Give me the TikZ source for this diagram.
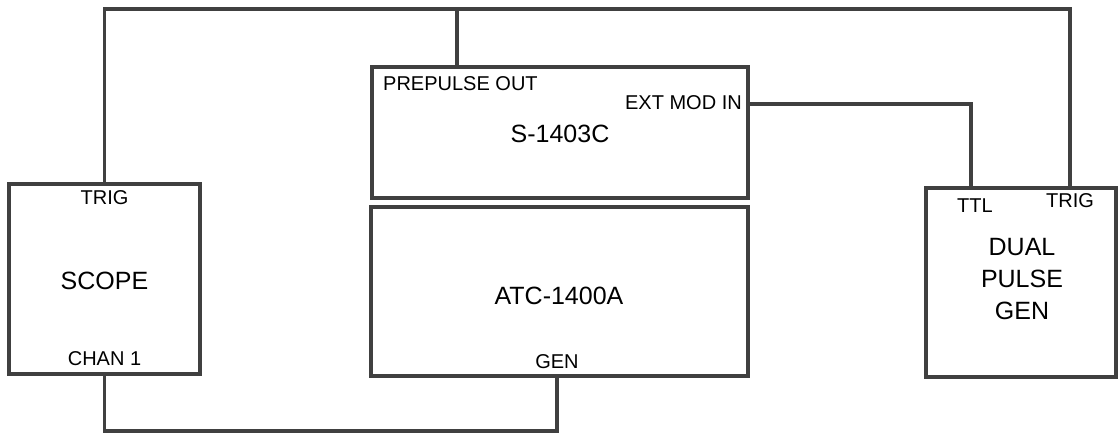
\documentclass[tikz,border=0pt]{standalone}
\usepackage{fontspec}
\setmainfont{Liberation Sans}
\begin{document}
\begin{tikzpicture}[x=1pt,y=-1pt,
  box/.style={draw=black!75, line width=3.2pt, rectangle, inner sep=0pt, outer sep=0pt},
  wire/.style={draw=black!75, line width=3.2pt, line join=miter},
  big/.style={inner sep=0pt, font=\fontsize{25}{32}\selectfont, align=center},
  small/.style={inner sep=0pt, font=\fontsize{20}{24}\selectfont}]
\useasboundingbox (0,0) rectangle (1120,437);
% boxes
\node[box, minimum width=191pt, minimum height=190pt] (scope) at (104.5,279) {};
\node[box, minimum width=376pt, minimum height=131pt] (src) at (560,132.5) {};
\node[box, minimum width=377pt, minimum height=169pt] (atc) at (559.5,291.5) {};
\node[box, minimum width=190pt, minimum height=189pt] (dpg) at (1021,282.5) {};
% labels
\node[small] (scopetrig) at (104.5,198) {TRIG};
\node[big] (scopename) at (104.5,281) {SCOPE};
\node[small] (chan) at (104.5,359) {CHAN 1};
\node[small, anchor=west] (prepulse) at (383,84) {PREPULSE OUT};
\node[small, anchor=east] (extmod) at (742,103) {EXT MOD IN};
\node[big] (srcname) at (560,134) {S-1403C};
\node[big] (atcname) at (559,296) {ATC-1400A};
\node[small] (gen) at (557,362) {GEN};
\node[small] (ttl) at (975,206) {TTL};
\node[small] (dpgtrig) at (1070,201) {TRIG};
\node[big] (dpgname) at (1022,279) {DUAL\\PULSE\\GEN};
% wire corners
\coordinate (topleft) at (104.5,9);
\coordinate (topjoin) at (457,9);
\coordinate (topright) at (1070,9);
\coordinate (modright) at (971,104);
\coordinate (botleft) at (104.5,431);
\coordinate (botright) at (557,431);
% wires
\draw[wire] (scope.north) -- (topleft) -- (topright) -- (dpg.north -| topright);
\draw[wire] (topjoin) -- (src.north -| topjoin);
\draw[wire] (src.east |- modright) -- (modright) -- (dpg.north -| modright);
\draw[wire] (scope.south) -- (botleft) -- (botright) -- (atc.south -| botright);
\end{tikzpicture}
\end{document}
